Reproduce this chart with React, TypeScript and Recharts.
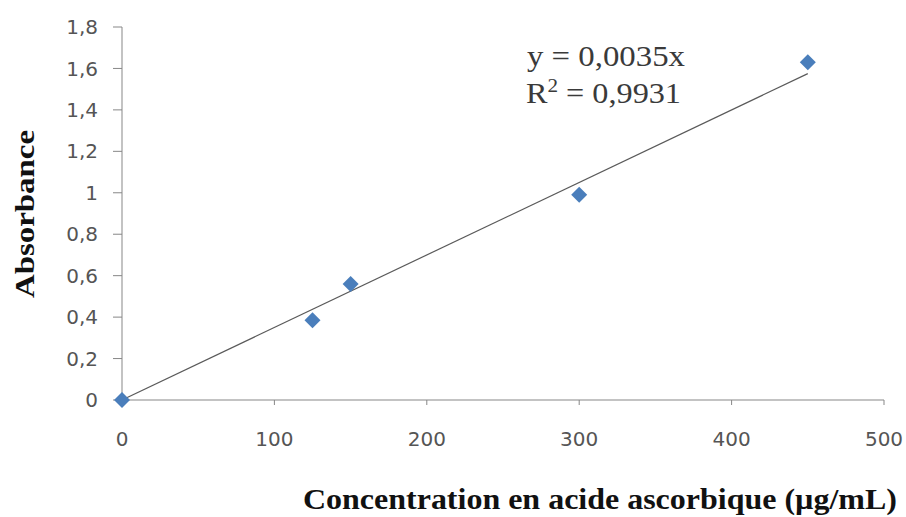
import React from 'react';
import { ScatterChart, Scatter, XAxis, YAxis } from 'recharts';

// measured points
const concentrations = [0, 125, 150, 300, 450];
const absorbances = [0, 0.385, 0.56, 0.99, 1.63];

// linear fit y = 0,0035x drawn over the measured range
const trendX = [0, 450];
const trendY = [0, 1.575];

const xTicks = [0, 100, 200, 300, 400, 500];
const yTicks = [0, 0.2, 0.4, 0.6, 0.8, 1, 1.2, 1.4, 1.6, 1.8];

const points = concentrations.map((x, i) => ({ x, y: absorbances[i] }));
const trend = trendX.map((x, i) => ({ x, y: trendY[i] }));

const AXIS = '#878787';
const TICK_TEXT = '#555555';
const MARKER = '#4a7ebb';

const fmt = (v: number) => String(Math.round(v * 10) / 10).replace('.', ',');

const Diamond = (props: any) => {
  const { cx, cy } = props;
  if (cx == null || cy == null) return null;
  const r = 8;
  return (
    <polygon
      points={`${cx},${cy - r} ${cx + r},${cy} ${cx},${cy + r} ${cx - r},${cy}`}
      fill={MARKER}
    />
  );
};

const tickStyle = { fill: TICK_TEXT, fontSize: 20, fontFamily: 'DejaVu Sans' };

const App = () => {
  return (
    <div style={{ position: 'absolute', left: 0, top: 0, width: 906, height: 517, background: '#fff' }}>
      <ScatterChart width={906} height={517} margin={{ top: 27, right: 22, left: 0, bottom: 0 }}>
        <XAxis
          type="number"
          dataKey="x"
          domain={[0, 500]}
          ticks={xTicks}
          tickFormatter={fmt}
          height={117}
          stroke={AXIS}
          tickSize={5}
          tickMargin={27}
          tick={tickStyle}
        />
        <YAxis
          type="number"
          dataKey="y"
          domain={[0, 1.8]}
          ticks={yTicks}
          tickFormatter={fmt}
          width={122}
          stroke={AXIS}
          tickSize={9}
          tickMargin={15}
          tick={tickStyle}
        />
        <Scatter
          data={trend}
          line={{ stroke: '#5a5a5a', strokeWidth: 1.2 }}
          shape={() => null}
          isAnimationActive={false}
        />
        <Scatter data={points} shape={Diamond} isAnimationActive={false} />
      </ScatterChart>
      <svg
        width={906}
        height={517}
        style={{ position: 'absolute', left: 0, top: 0, pointerEvents: 'none' }}
      >
        <text
          x={600}
          y={509}
          textAnchor="middle"
          fontFamily="Liberation Serif"
          fontWeight="bold"
          fontSize={30}
          fill="#111"
          textLength={594}
          lengthAdjust="spacingAndGlyphs"
        >
          Concentration en acide ascorbique (µg/mL)
        </text>
        <text
          x={34}
          y={214}
          textAnchor="middle"
          transform="rotate(-90, 34, 214)"
          fontFamily="Liberation Serif"
          fontWeight="bold"
          fontSize={27}
          fill="#111"
          textLength={168}
          lengthAdjust="spacingAndGlyphs"
        >
          Absorbance
        </text>
        <text
          x={527}
          y={66}
          fontFamily="Liberation Serif"
          fontSize={30}
          fill="#3a3a3a"
          textLength={158}
          lengthAdjust="spacingAndGlyphs"
        >
          y = 0,0035x
        </text>
        <text
          x={526}
          y={103}
          fontFamily="Liberation Serif"
          fontSize={29}
          fill="#3a3a3a"
          textLength={155}
          lengthAdjust="spacingAndGlyphs"
        >
          R
          <tspan fontSize={19} dy={-11}>2</tspan>
          <tspan dy={11}>{' = 0,9931'}</tspan>
        </text>
      </svg>
    </div>
  );
};

export default App;
